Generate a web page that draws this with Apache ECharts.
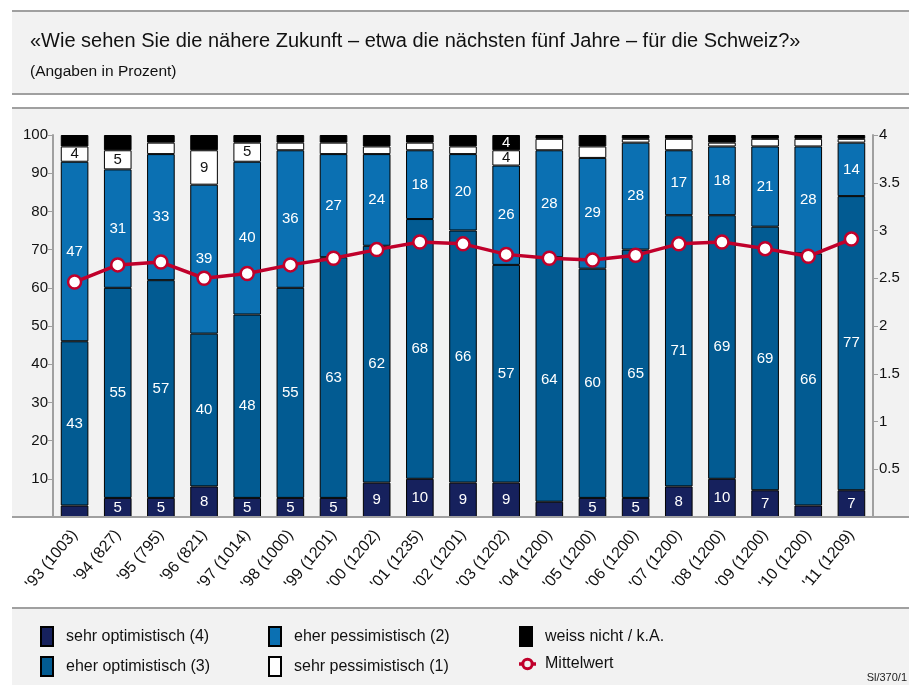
<!DOCTYPE html>
<html>
<head>
<meta charset="utf-8">
<script src="https://cdn.jsdelivr.net/npm/echarts@6/dist/echarts.min.js"></script>
<style>
html,body{margin:0;padding:0;background:#fff;}
#chart{width:909px;height:685px;}
</style>
</head>
<body>
<div id="chart"></div>
<script>
var categories = ["'93 (1003)", "'94 (827)", "'95 (795)", "'96 (821)", "'97 (1014)", "'98 (1000)", "'99 (1201)", "'00 (1202)", "'01 (1235)", "'02 (1201)", "'03 (1202)", "'04 (1200)", "'05 (1200)", "'06 (1200)", "'07 (1200)", "'08 (1200)", "'09 (1200)", "'10 (1200)", "'11 (1209)"];
var sehrOptimistisch = [3, 5, 5, 8, 5, 5, 5, 9, 10, 9, 9, 4, 5, 5, 8, 10, 7, 3, 7];
var eherOptimistisch = [43, 55, 57, 40, 48, 55, 63, 62, 68, 66, 57, 64, 60, 65, 71, 69, 69, 66, 77];
var eherPessimistisch = [47, 31, 33, 39, 40, 36, 27, 24, 18, 20, 26, 28, 29, 28, 17, 18, 21, 28, 14];
var sehrPessimistisch = [4, 5, 3, 9, 5, 2, 3, 2, 2, 2, 4, 3, 3, 1, 3, 1, 2, 2, 1];
var weissNicht = [3, 4, 2, 4, 2, 2, 2, 3, 2, 3, 4, 1, 3, 1, 1, 2, 1, 1, 1];
var mittelwert = [2.46, 2.64, 2.67, 2.50, 2.55, 2.64, 2.71, 2.80, 2.88, 2.86, 2.75, 2.71, 2.69, 2.74, 2.86, 2.88, 2.81, 2.73, 2.91];
var leftTicks = ['', '10', '20', '30', '40', '50', '60', '70', '80', '90', '100'];
var rightTicks = ['', '0.5', '1', '1.5', '2', '2.5', '3', '3.5', '4'];
var weissNichtLabelled = [10];
var seriesNames = ['sehr optimistisch (4)', 'eher optimistisch (3)', 'eher pessimistisch (2)', 'sehr pessimistisch (1)', 'weiss nicht / k.A.', 'Mittelwert'];

var FONT = "'Liberation Sans', Arial, Helvetica, sans-serif";
var RED = '#c0002b';
var LINE_ICON = 'path://M0,6.5H2.5V9.5H0Z M12.5,6.5H15V9.5H12.5Z M2,8A5.5,5.5 0 1 1 13,8A5.5,5.5 0 1 1 2,8Z M4.7,8A2.8,2.8 0 1 0 10.3,8A2.8,2.8 0 1 0 4.7,8Z';
var chart = echarts.init(document.getElementById('chart'), null, {renderer: 'canvas'});

function barSeries(name, data, color, textColor, showFn) {
  return {
    name: name, type: 'bar', stack: 'total', data: data, barWidth: '64%',
    itemStyle: {color: color, borderColor: '#000', borderWidth: 1},
    label: {
      show: true, position: 'inside', color: textColor, fontSize: 15, fontFamily: FONT,
      formatter: function (p) { return showFn(p.value, p.dataIndex) ? String(p.value) : ''; }
    },
    emphasis: {disabled: true}
  };
}

var legendPos = [[40, 626], [40, 656], [268, 626], [268, 656], [519, 626], [519, 656]];
var legends = seriesNames.map(function (n, i) {
  var isLine = i === 5;
  return {
    left: legendPos[i][0], top: legendPos[i][1], padding: 0,
    itemWidth: isLine ? 17 : 12, itemHeight: isLine ? 12.5 : 19,
    selectedMode: false,
    icon: isLine ? LINE_ICON : 'rect',
    textStyle: {fontSize: 16, color: '#111', fontFamily: FONT, padding: [0, 0, 0, isLine ? 4 : 8]},
    data: [isLine ? {name: n, itemStyle: {color: RED, borderWidth: 0}} : n]
  };
});

var option = {
  animation: false,
  backgroundColor: '#ffffff',
  textStyle: {fontFamily: FONT},
  title: {
    text: '«Wie sehen Sie die nähere Zukunft – etwa die nächsten fünf Jahre – für die Schweiz?»',
    subtext: '(Angaben in Prozent)',
    left: 25, top: 26, itemGap: 13,
    textStyle: {fontSize: 20, fontWeight: 'normal', color: '#111', fontFamily: FONT},
    subtextStyle: {fontSize: 15.5, color: '#111', fontFamily: FONT}
  },
  graphic: [
    {type: 'rect', z: -10, shape: {x: 12, y: 11, width: 897, height: 83}, style: {fill: '#f2f2f2', stroke: null}},
    {type: 'line', z: -9, shape: {x1: 12, y1: 11, x2: 909, y2: 11}, style: {stroke: '#a0a0a0', lineWidth: 2}},
    {type: 'line', z: -9, shape: {x1: 12, y1: 94, x2: 909, y2: 94}, style: {stroke: '#a0a0a0', lineWidth: 2}},
    {type: 'rect', z: -10, shape: {x: 12, y: 108, width: 897, height: 409}, style: {fill: '#f2f2f2', stroke: null}},
    {type: 'line', z: -9, shape: {x1: 12, y1: 108, x2: 909, y2: 108}, style: {stroke: '#a0a0a0', lineWidth: 2}},
    {type: 'line', z: 5, shape: {x1: 12, y1: 517, x2: 909, y2: 517}, style: {stroke: '#a0a0a0', lineWidth: 2}},
    {type: 'rect', z: -10, shape: {x: 12, y: 608, width: 897, height: 77}, style: {fill: '#f2f2f2', stroke: null}},
    {type: 'line', z: -9, shape: {x1: 12, y1: 608, x2: 909, y2: 608}, style: {stroke: '#a0a0a0', lineWidth: 2}},
    {type: 'text', right: 2, top: 672, style: {text: 'Sl/370/1', fontSize: 11, fill: '#222', fontFamily: FONT}}
  ],
  grid: {left: 53, right: 36, top: 135, bottom: 168, containLabel: false},
  legend: legends,
  xAxis: {
    type: 'category', data: categories,
    axisLine: {show: false}, axisTick: {show: false},
    axisLabel: {rotate: 50, fontSize: 16, color: '#111', margin: 15, interval: 0, fontFamily: FONT}
  },
  yAxis: [
    {type: 'value', min: 0, max: 100, interval: 10, position: 'left',
     axisLine: {show: true, lineStyle: {color: '#a0a0a0', width: 2}},
     axisTick: {show: true, length: 5, lineStyle: {color: '#a0a0a0', width: 1}},
     splitLine: {show: false},
     axisLabel: {fontSize: 15, color: '#111', margin: 5, fontFamily: FONT,
       formatter: function (v) { return leftTicks[Math.round(v / 10)]; }}},
    {type: 'value', min: 0, max: 4, interval: 0.5, position: 'right',
     axisLine: {show: true, lineStyle: {color: '#a0a0a0', width: 2}},
     axisTick: {show: true, length: 5, lineStyle: {color: '#a0a0a0', width: 1}},
     splitLine: {show: false},
     axisLabel: {fontSize: 15, color: '#111', margin: 6, fontFamily: FONT,
       formatter: function (v) { return rightTicks[Math.round(v * 2)]; }}}
  ],
  series: [
    barSeries(seriesNames[0], sehrOptimistisch, '#16215d', '#fff', function (v) { return v >= 5; }),
    barSeries(seriesNames[1], eherOptimistisch, '#025b92', '#fff', function () { return true; }),
    barSeries(seriesNames[2], eherPessimistisch, '#0b70b2', '#fff', function () { return true; }),
    barSeries(seriesNames[3], sehrPessimistisch, '#ffffff', '#111', function (v) { return v >= 4; }),
    barSeries(seriesNames[4], weissNicht, '#000000', '#fff', function (v, i) { return weissNichtLabelled.indexOf(i) >= 0; }),
    {
      name: seriesNames[5], type: 'line', yAxisIndex: 1, data: mittelwert, z: 10,
      lineStyle: {color: RED, width: 3.5},
      itemStyle: {color: '#ffffff', borderColor: RED, borderWidth: 2.5},
      symbol: 'circle', symbolSize: 13, showAllSymbol: true,
      emphasis: {disabled: true}
    }
  ]
};
chart.setOption(option);
</script>
</body>
</html>
